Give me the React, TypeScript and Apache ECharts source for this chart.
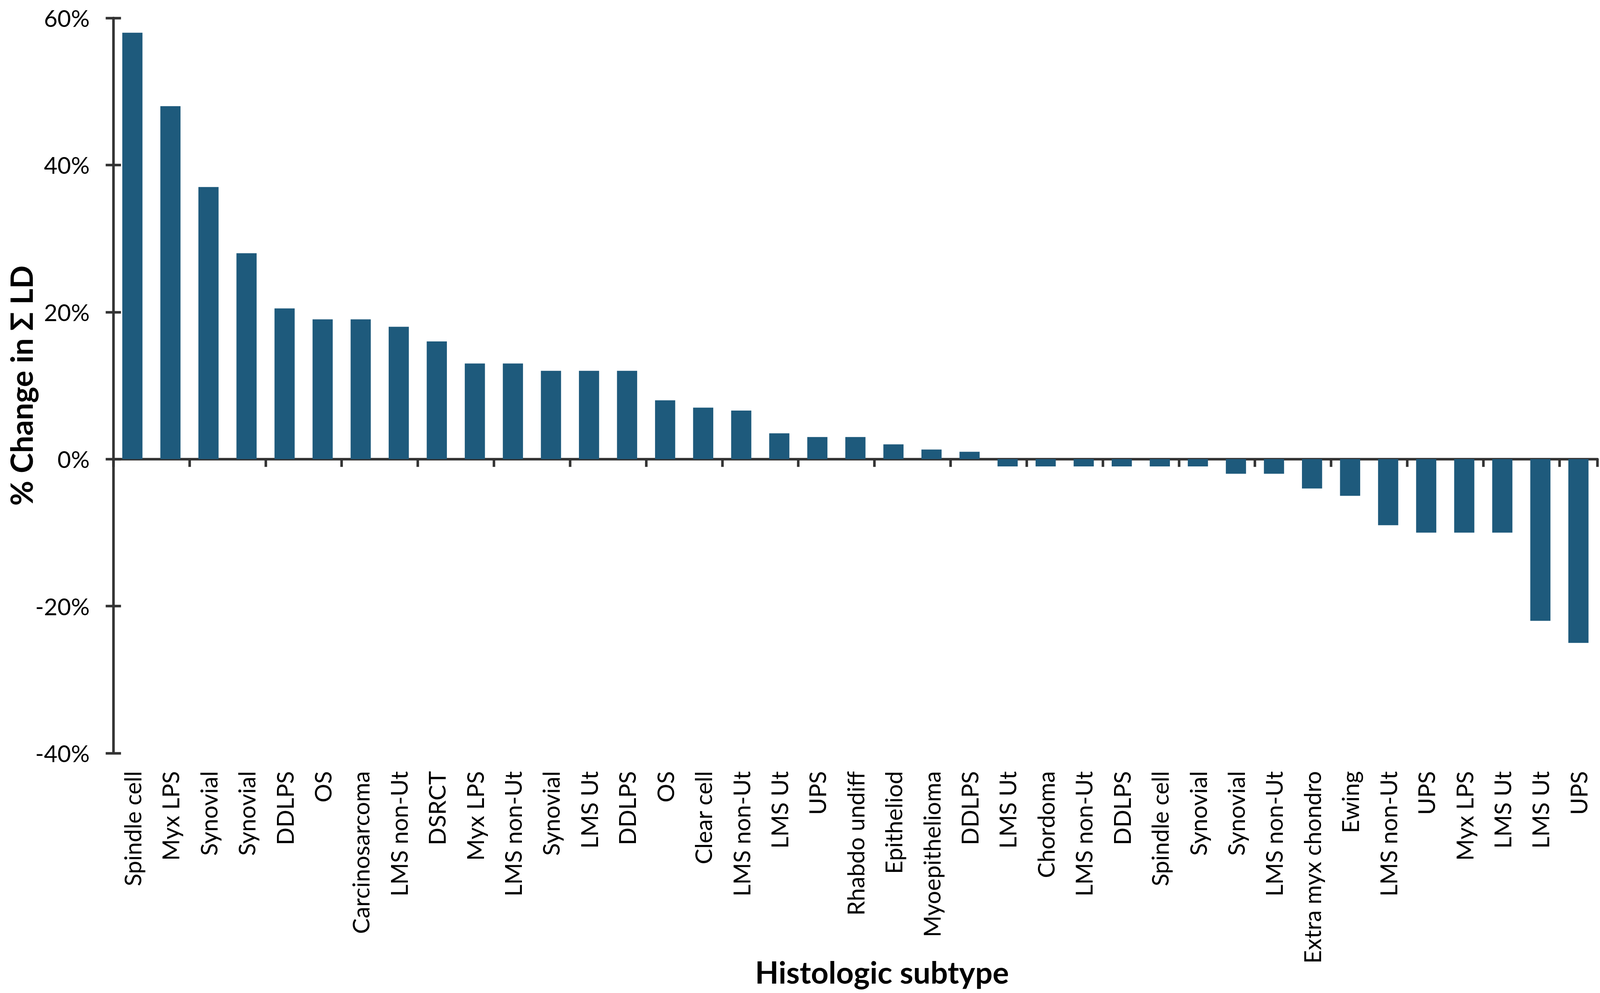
import React, { useEffect, useRef } from "react";
import * as echarts from "echarts";

const categories: string[] = [
  "Spindle cell", "Myx LPS", "Synovial", "Synovial", "DDLPS", "OS", "Carcinosarcoma",
  "LMS non-Ut", "DSRCT", "Myx LPS", "LMS non-Ut", "Synovial", "LMS Ut", "DDLPS", "OS",
  "Clear cell", "LMS non-Ut", "LMS Ut", "UPS", "Rhabdo undiff", "Epitheliod",
  "Myoepithelioma", "DDLPS", "LMS Ut", "Chordoma", "LMS non-Ut", "DDLPS", "Spindle cell",
  "Synovial", "Synovial", "LMS non-Ut", "Extra myx chondro", "Ewing", "LMS non-Ut", "UPS",
  "Myx LPS", "LMS Ut", "LMS Ut", "UPS",
];

const changeValues: number[] = [
  58, 48, 37, 28, 20.5, 19, 19, 18, 16, 13, 13, 12, 12, 12, 8, 7, 6.6, 3.5, 3, 3, 2, 1.3, 1,
  -1, -1, -1, -1, -1, -1, -2, -2, -4, -5, -9, -10, -10, -10, -22, -25,
];

const yMin = -40;
const yMax = 60;
const yStep = 20;

const yTitle = "% Change in Σ LD";
const xTitle = "Histologic subtype";

const FONT = "Lato, 'Open Sans', 'Noto Sans', sans-serif";
const AXIS_COLOR = "#333333";
const BAR_COLOR = "#1e5a7c";

// reference frame
const W0 = 4390;
const H0 = 2542;

function buildOption(w: number, h: number) {
  const sx = w / W0;
  const sy = h / H0;
  const s = Math.min(sx, sy);
  return {
    animation: false,
    backgroundColor: "#ffffff",
    grid: { left: 311 * sx, right: 7 * sx, top: 46 * sy, bottom: 614 * sy },
    xAxis: [
      {
        type: "category",
        position: "bottom",
        data: categories,
        boundaryGap: true,
        axisLine: { show: false, onZero: false },
        axisTick: { show: false },
        axisLabel: {
          interval: 0,
          rotate: 90,
          margin: 46 * sy,
          color: "#000000",
          fontFamily: FONT,
          fontSize: 64 * s,
        },
      },
      {
        type: "category",
        position: "bottom",
        data: categories,
        boundaryGap: true,
        axisLine: { show: true, onZero: true, lineStyle: { color: AXIS_COLOR, width: 7 * s } },
        axisTick: { show: true, length: 20 * sy, lineStyle: { color: AXIS_COLOR, width: 7 * s } },
        axisLabel: { show: false },
      },
    ],
    yAxis: [
      {
        type: "value",
        position: "left",
        min: yMin,
        max: yMax,
        interval: yStep,
        splitLine: { show: false },
        axisLine: { show: true, lineStyle: { color: AXIS_COLOR, width: 7 * s } },
        axisTick: { show: true, length: 21 * sx, lineStyle: { color: AXIS_COLOR, width: 7 * s } },
        axisLabel: {
          margin: 65 * sx,
          color: "#000000",
          fontFamily: FONT,
          fontSize: 64 * s,
          lineHeight: 58 * s,
          formatter: "{value}%",
        },
      },
      {
        type: "value",
        position: "left",
        min: yMin,
        max: yMax,
        interval: yStep,
        splitLine: { show: false },
        axisLine: { show: false },
        axisTick: {
          show: true,
          inside: true,
          length: 21 * sx,
          lineStyle: { color: AXIS_COLOR, width: 7 * s },
        },
        axisLabel: { show: false },
      },
    ],
    series: [
      {
        type: "bar",
        xAxisIndex: 0,
        yAxisIndex: 0,
        data: changeValues,
        barWidth: "53%",
        itemStyle: { color: BAR_COLOR },
        z: 1,
      },
    ],
    graphic: [
      {
        type: "text",
        x: 58 * sx,
        y: 987 * sy,
        rotation: Math.PI / 2,
        style: {
          text: yTitle,
          fill: "#000000",
          fontFamily: FONT,
          fontWeight: "bold",
          fontSize: 84 * s,
          align: "center",
          verticalAlign: "middle",
          textAlign: "center",
          textVerticalAlign: "middle",
        },
      },
      {
        type: "text",
        x: 2420 * sx,
        y: 2488 * sy,
        style: {
          text: xTitle,
          fill: "#000000",
          fontFamily: FONT,
          fontWeight: "bold",
          fontSize: 84 * s,
          align: "center",
          verticalAlign: "middle",
          textAlign: "center",
          textVerticalAlign: "middle",
        },
      },
    ],
  };
}

export default function App() {
  const ref = useRef<HTMLDivElement>(null);

  useEffect(() => {
    document.body.style.margin = "0";
    document.body.style.overflow = "hidden";
    document.documentElement.style.overflow = "hidden";
    const el = ref.current;
    if (!el) return;
    const chart = echarts.init(el, null, { renderer: "svg" });
    const apply = () => {
      const w = el.clientWidth || W0;
      const h = el.clientHeight || H0;
      chart.resize({ width: w, height: h });
      chart.setOption(buildOption(w, h), true);
    };
    apply();
    const onResize = () => apply();
    window.addEventListener("resize", onResize);
    return () => {
      window.removeEventListener("resize", onResize);
      chart.dispose();
    };
  }, []);

  return (
    <div
      ref={ref}
      style={{ position: "fixed", left: 0, top: 0, width: "100vw", height: "100vh", background: "#fff" }}
    />
  );
}
